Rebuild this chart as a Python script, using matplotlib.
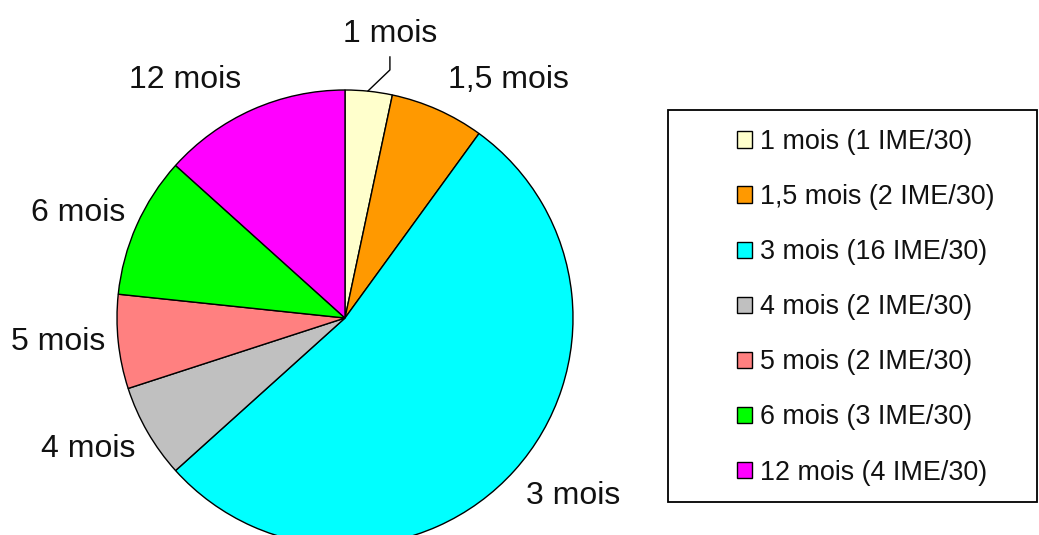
import matplotlib
matplotlib.use("Agg")
import matplotlib.pyplot as plt
from matplotlib.patches import Rectangle

plt.rcParams['font.family'] = ['Liberation Sans', 'DejaVu Sans']

categories = ["1 mois", "1,5 mois", "3 mois", "4 mois", "5 mois", "6 mois", "12 mois"]
counts = [1, 2, 16, 2, 2, 3, 4]
total = 30
colors = ["#FFFFCC", "#FF9900", "#00FFFF", "#C0C0C0", "#FF8080", "#00FF00", "#FF00FF"]
legend_labels = [f"{c} ({n} IME/{total})" for c, n in zip(categories, counts)]

W, H = 1039, 535
fig = plt.figure(figsize=(W / 100, H / 100), dpi=100)
ax = fig.add_axes([0, 0, 1, 1])

wedges, _ = ax.pie(counts, colors=colors, startangle=90, counterclock=False,
                   radius=1.0, wedgeprops=dict(edgecolor="black", linewidth=1.0))

# pixel mapping: centre (345, 318), radius 228 px
cx, cy, R = 345, 318, 228
ax.set_xlim(-cx / R, (W - cx) / R)
ax.set_ylim((cy - H) / R, cy / R)
ax.set_aspect('auto')
ax.axis('off')

label_pos = [(0.197, 1.245), (0.715, 1.044), (1.0, -0.781), (-1.127, -0.575),
             (-1.259, -0.105), (-1.171, 0.46), (-0.702, 1.044)]
for txt, (x, y) in zip(categories, label_pos):
    ax.text(x, y, txt, ha="center", va="center", fontsize=23, color="#111111")

# leader line for the small slice
ax.plot([0.197, 0.197, 0.101], [1.145, 1.088, 0.996], color="black", lw=1.0)

# legend box
box = Rectangle((668 / W, 1 - 502 / H), 369 / W, 392 / H, transform=fig.transFigure,
                facecolor="white", edgecolor="black", linewidth=1.3)
fig.patches.append(box)

leg = fig.legend(wedges, legend_labels, loc="upper left",
                 bbox_to_anchor=(737 / W, 1 - 129 / H), frameon=False,
                 fontsize=19.4, handlelength=0.55, handleheight=0.55,
                 handletextpad=0.3, labelspacing=1.08, borderpad=0, borderaxespad=0)
for t in leg.get_texts():
    t.set_color("#111111")

fig.savefig("out.png", dpi=100)
